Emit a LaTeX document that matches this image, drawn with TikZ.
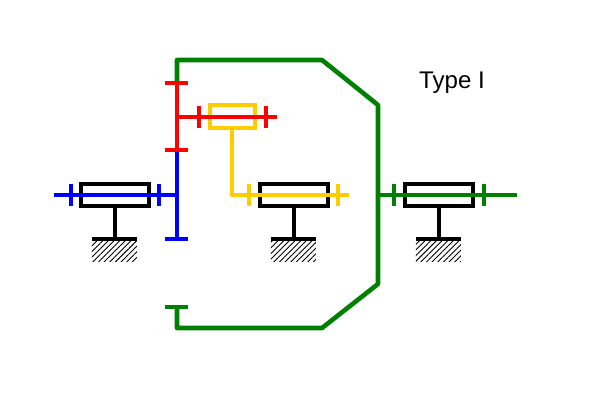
\documentclass[tikz,border=0pt]{standalone}
\usepackage{fontspec}
\setmainfont{Liberation Sans}
\usetikzlibrary{patterns.meta}
\definecolor{gearyellow}{RGB}{255,204,0}
\definecolor{geargreen}{RGB}{0,128,0}
\tikzset{
  gearline/.style={line width=0.92mm},
  hatchbox/.style={pattern={Lines[angle=45,distance=0.8mm,line width=0.18mm]},draw=none},
}
\begin{document}
\begin{tikzpicture}[x=0.02cm,y=-0.02cm]
   \useasboundingbox (0,0) rectangle (600,400);

   % bearings
   \begin{scope}[xshift=0cm]
   \draw[gearline] (81,184) rectangle (149,206);
   \draw[gearline] (115,206) -- (115,239);
   \fill[hatchbox] (92,241) rectangle (137,261);
   \draw[gearline] (92,239) -- (137,239);
   \end{scope}
   \begin{scope}[xshift=3.58cm]
   \draw[gearline] (81,184) rectangle (149,206);
   \draw[gearline] (115,206) -- (115,239);
   \fill[hatchbox] (92,241) rectangle (137,261);
   \draw[gearline] (92,239) -- (137,239);
   \end{scope}
   \begin{scope}[xshift=6.48cm]
   \draw[gearline] (81,184) rectangle (149,206);
   \draw[gearline] (115,206) -- (115,239);
   \fill[hatchbox] (92,241) rectangle (137,261);
   \draw[gearline] (92,239) -- (137,239);
   \end{scope}

   % green
   \draw[gearline,geargreen,line join=round] (177,83) -- (177,60) -- (322,60) -- (378,105) -- (378,284) -- (322,328) -- (177,328) -- (177,307);
   \draw[gearline,geargreen] (165,307) -- (188,307);
   \draw[gearline,geargreen] (378,195) -- (517,195);
   \draw[gearline,geargreen] (394,184) -- (394,206);
   \draw[gearline,geargreen] (484,184) -- (484,206);

   % blue
   \draw[gearline,blue] (54,195) -- (177,195);
   \draw[gearline,blue] (71,184) -- (71,206);
   \draw[gearline,blue] (159,184) -- (159,206);
   \draw[gearline,blue] (177,150) -- (177,239);
   \draw[gearline,blue] (165,239) -- (188,239);

   % yellow
   \draw[gearline,gearyellow] (210,105) rectangle (255,128);
   \draw[gearline,gearyellow,line join=round] (232,128) -- (232,195) -- (349,195);
   \draw[gearline,gearyellow] (249,184) -- (249,206);
   \draw[gearline,gearyellow] (338,184) -- (338,206);

   % red
   \draw[gearline,red] (177,83) -- (177,150);
   \draw[gearline,red] (165,83) -- (188,83);
   \draw[gearline,red] (165,150) -- (188,150);
   \draw[gearline,red] (177,117) -- (277,117);
   \draw[gearline,red] (199,106) -- (199,128);
   \draw[gearline,red] (266,106) -- (266,128);

   \node[font=\fontsize{13.7}{16}\selectfont] (typelabel) at (452,83) {Type I};
\end{tikzpicture}
\end{document}
